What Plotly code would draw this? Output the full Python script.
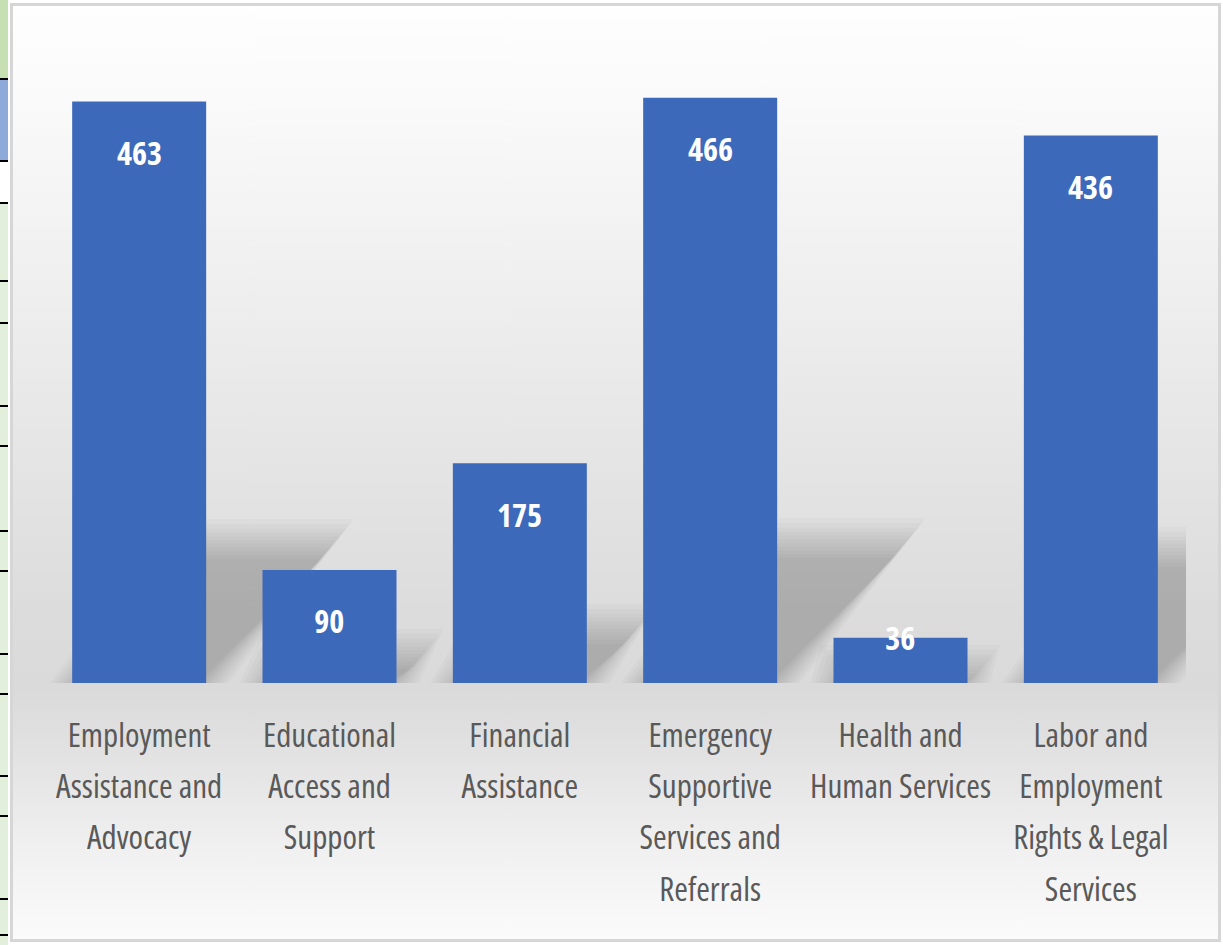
import base64
import plotly.graph_objects as go

# ---- data ----
categories = [
    "Employment Assistance and Advocacy",
    "Educational Access and Support",
    "Financial Assistance",
    "Emergency Supportive Services and Referrals",
    "Health and Human Services",
    "Labor and Employment Rights & Legal Services",
]
label_lines = [
    ["Employment", "Assistance and", "Advocacy"],
    ["Educational", "Access and", "Support"],
    ["Financial", "Assistance"],
    ["Emergency", "Supportive", "Services and", "Referrals"],
    ["Health and", "Human Services"],
    ["Labor and", "Employment", "Rights &amp; Legal", "Services"],
]
values = [463, 90, 175, 466, 36, 436]

# ---- layout geometry ----
W, H = 1223, 945
ML, MR, MT, MB = 44, 37, 55, 262
PW, PH = W - ML - MR, H - MT - MB
YMAX = 500
BARGAP = 0.296
FONT = "Open Sans, Lato, sans-serif"
BAR_COLOR = "#3d69bb"

xs = list(range(len(categories)))

fig = go.Figure()
fig.add_trace(go.Bar(
    x=xs, y=values, marker=dict(color=BAR_COLOR, line=dict(width=0)),
    hoverinfo="skip", showlegend=False,
))

# value labels
px_per_unit = PH / YMAX
for x, v in zip(xs, values):
    inside = v * px_per_unit > 100
    fig.add_annotation(
        x=x, y=v, text=f"<b>{v}</b>", showarrow=False,
        xanchor="center", yanchor="middle",
        yshift=-51 if inside else 0,
        font=dict(family=FONT, size=32, color="white"),
    )

# shadows (perspective, cast to the right), layered to fake a blur
half = (1 - BARGAP) / 2
SH_RATIO = 0.235
SKEW = 0.00142
shapes = []
layers = [(0.12, 22), (0.10, 18), (0.08, 14), (0.06, 11), (0.045, 8), (0.03, 5),
          (0.015, 2), (0.0, -1), (-0.015, -4), (-0.03, -7), (-0.045, -10)]
for x, v in zip(xs, values):
    h = v * SH_RATIO
    d = v * SKEW
    for ex, ey in layers:
        hh = max(h + ey, 1)
        path = (f"M {x - half - ex},0 L {x + half + ex},0 "
                f"L {x + half + d + ex},{hh} L {x - half + d - ex},{hh} Z")
        shapes.append(dict(type="path", xref="x", yref="y", path=path,
                           fillcolor="rgba(0,0,0,0.021)", line=dict(width=0),
                           layer="below"))

# background: gradient, frame, and the spreadsheet strip at the left edge
stops = [(0, "#fefefe"), (0.1, "#fafafa"), (0.3, "#efefef"), (0.5, "#e4e4e4"),
         (0.65, "#dcdcdc"), (0.73, "#dadada"), (0.8, "#e2e2e2"), (0.9, "#f0f0f0"),
         (1, "#fbfbfb")]
stop_xml = "".join(f"<stop offset='{o}' stop-color='{c}'/>" for o, c in stops)
strip = ("<rect x='0' y='0' width='8' height='945' fill='#e2efda'/>"
         "<rect x='0' y='0' width='8' height='78' fill='#c6e0b4'/>"
         "<rect x='0' y='80' width='8' height='80' fill='#8eaadb'/>"
         "<rect x='0' y='162' width='8' height='40' fill='#ffffff'/>")
for yy in [78, 160, 202, 280, 322, 405, 445, 530, 570, 653, 693, 775, 815, 898, 934]:
    strip += f"<rect x='0' y='{yy}' width='8' height='2' fill='#000000'/>"
svg = (f"<svg xmlns='http://www.w3.org/2000/svg' width='{W}' height='{H}' "
       f"viewBox='0 0 {W} {H}' preserveAspectRatio='none'>"
       f"<defs><linearGradient id='g' x1='0' y1='0' x2='0' y2='1'>{stop_xml}</linearGradient></defs>"
       f"<rect x='0' y='0' width='{W}' height='{H}' fill='#ffffff'/>"
       f"{strip}"
       f"<rect x='11.5' y='4.5' width='1208' height='936' fill='url(#g)' stroke='#d6d6d6' stroke-width='3'/>"
       f"</svg>")
src = "data:image/svg+xml;base64," + base64.b64encode(svg.encode()).decode()

ticktext = ["<br>".join(f"<span style='font-size:33px'>{s}</span>" for s in lines)
            for lines in label_lines]

fig.update_layout(
    width=W, height=H, autosize=False,
    margin=dict(l=ML, r=MR, t=MT, b=MB, pad=0, autoexpand=False),
    paper_bgcolor="white", plot_bgcolor="rgba(0,0,0,0)",
    bargap=BARGAP,
    shapes=shapes,
    images=[dict(source=src, xref="paper", yref="paper",
                 x=-ML / PW, y=1 + MT / PH, sizex=W / PW, sizey=H / PH,
                 xanchor="left", yanchor="top", sizing="stretch", layer="below")],
    xaxis=dict(range=[-0.5, len(categories) - 0.5], tickmode="array", tickvals=xs,
               ticktext=ticktext, showgrid=False, zeroline=False, showline=False,
               ticks="", ticklabelstandoff=23, tickangle=0, automargin=False,
               tickfont=dict(family=FONT, size=39.5, color="#595959")),
    yaxis=dict(range=[0, YMAX], visible=False, showgrid=False, zeroline=False,
               automargin=False),
)

fig.write_html("out.html", include_plotlyjs=True, full_html=True,
               config=dict(displayModeBar=False),
               post_script=("document.body.style.margin='0';"
                            "document.body.style.overflow='hidden';"
                            "document.querySelectorAll('text').forEach(function(t){"
                            "t.style.fontStretch='75%';});"))
